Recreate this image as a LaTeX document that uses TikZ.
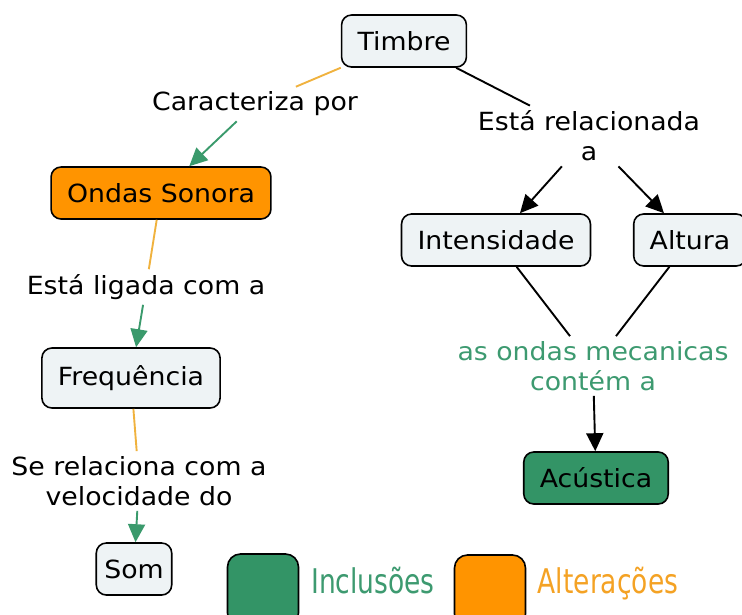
\documentclass[tikz,border=0pt]{standalone}
\usepackage{fontspec}
\setmainfont{DejaVu Sans}[FakeStretch=1.07]
\newfontfamily\estreita[FakeStretch=0.78]{DejaVu Sans}
\usetikzlibrary{arrows.meta,positioning}
\definecolor{cfundo}{HTML}{EEF3F5}
\definecolor{laranja}{HTML}{FF9400}
\definecolor{verde}{HTML}{339466}
\definecolor{linhalar}{HTML}{F0B23E}
\definecolor{setaverde}{HTML}{3A9A6C}
\definecolor{textoverde}{HTML}{3D9A70}
\definecolor{textolar}{HTML}{F4A224}
\tikzset{
  conceito/.style={draw=black,line width=1.6pt,rounded corners=10pt,fill=cfundo,
    minimum height=52pt,inner xsep=16pt,font=\fontsize{25}{30}\selectfont},
  frase/.style={inner sep=5pt,align=center,font=\fontsize{25}{30}\selectfont},
  liga/.style={line width=1.9pt},
  seta/.style={line width=1.9pt,-{Triangle[length=18pt,width=17pt]}},
  legenda/.style={draw=black,line width=1.6pt,rounded corners=13pt,minimum width=71pt,
    minimum height=72pt},
  rotulo/.style={anchor=base,font=\estreita\fontsize{34}{40}\selectfont}
}
\begin{document}
\begin{tikzpicture}[x=1pt,y=-1pt]
  \clip (0,0) rectangle (742,614);
  % ramo da esquerda
  \node[conceito] (timbre) at (404,41) {Timbre};
  \node[frase] (caract) at (255,104) {Caracteriza por};
  \node[conceito,fill=laranja] (ondas) at (161,193) {Ondas Sonora};
  \node[frase] (ligada) at (146,287) {Está ligada com a};
  \node[conceito,minimum height=60pt] (freq) at (131,378) {Frequência};
  \node[frase] (relac) at (139,481) {Se relaciona com a\\velocidade do};
  \node[conceito,inner xsep=8pt] (som) at (134,569) {Som};
  \draw[liga,draw=linhalar] (timbre) -- (caract);
  \draw[seta,color=setaverde] (caract) -- (ondas);
  \draw[liga,draw=linhalar] (ondas) -- (ligada);
  \draw[seta,color=setaverde] (ligada) -- (freq);
  \draw[liga,draw=linhalar] (freq) -- (relac);
  \draw[seta,color=setaverde] (relac) -- (som);

  % ramo da direita
  \node[frase] (rel) at (589,136) {Está relacionada\\a};
  \node[conceito] (inten) at (496,240) {Intensidade};
  \node[conceito] (altura) at (690,240) {Altura};
  \node[frase,text=textoverde] (mec) at (593,366) {as ondas mecanicas\\contém a};
  \node[conceito,fill=verde] (acust) at (596,478) {Acústica};
  \draw[liga] (timbre) -- (rel);
  \draw[seta] (rel) -- (inten);
  \draw[seta] (rel) -- (altura);
  \draw[liga] (inten) -- (mec);
  \draw[liga] (altura) -- (mec);
  \draw[seta] (mec) -- (acust);

  % legenda
  \node[legenda,fill=verde] (lverde) at (263,590) {};
  \node[rotulo,text=textoverde] (linc) at (373,593) {Inclusões};
  \node[legenda,fill=laranja] (llar) at (490,591) {};
  \node[rotulo,text=textolar] (lalt) at (608,593) {Alterações};
\end{tikzpicture}
\end{document}
